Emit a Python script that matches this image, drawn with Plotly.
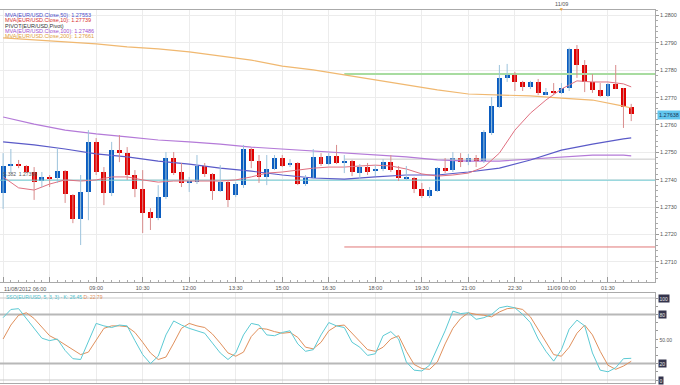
import plotly.graph_objects as go
import pandas as pd

# ---------------- data (15-minute EUR/USD candles, 11/08/2012 06:00 onward) ----------------
start_time = "2012-11-08 06:00"
opens = [1.27351, 1.27450, 1.27457, 1.27450, 1.27428, 1.27395, 1.27410, 1.27406, 1.27431, 1.27344,
         1.27256, 1.27355, 1.27538, 1.27428, 1.27351, 1.27508, 1.27497, 1.27417, 1.27366, 1.27282,
         1.27260, 1.27336, 1.27479, 1.27428, 1.27388, 1.27391, 1.27450, 1.27421, 1.27358, 1.27391,
         1.27344, 1.27380, 1.27512, 1.27468, 1.27410, 1.27439, 1.27479, 1.27453, 1.27461, 1.27384,
         1.27406, 1.27483, 1.27457, 1.27486, 1.27461, 1.27468, 1.27424, 1.27446, 1.27431, 1.27439,
         1.27464, 1.27435, 1.27402, 1.27406, 1.27366, 1.27340, 1.27358, 1.27442, 1.27435, 1.27479,
         1.27464, 1.27479, 1.27468, 1.27570, 1.27666, 1.27772, 1.27790, 1.27757, 1.27739, 1.27757,
         1.27713, 1.27720, 1.27717, 1.27735, 1.27878, 1.27819, 1.27757, 1.27728, 1.27706, 1.27750,
         1.27735, 1.27666]
highs = [1.27497, 1.27512, 1.27472, 1.27453, 1.27446, 1.27428, 1.27417, 1.27516, 1.27435, 1.27347,
         1.27417, 1.27581, 1.27552, 1.27446, 1.27538, 1.27563, 1.27519, 1.27435, 1.27435, 1.27296,
         1.27380, 1.27501, 1.27501, 1.27461, 1.27410, 1.27490, 1.27461, 1.27424, 1.27453, 1.27399,
         1.27391, 1.27527, 1.27516, 1.27490, 1.27490, 1.27490, 1.27490, 1.27475, 1.27464, 1.27417,
         1.27512, 1.27497, 1.27497, 1.27527, 1.27490, 1.27472, 1.27457, 1.27461, 1.27453, 1.27475,
         1.27490, 1.27450, 1.27450, 1.27410, 1.27388, 1.27373, 1.27446, 1.27479, 1.27501, 1.27497,
         1.27494, 1.27490, 1.27581, 1.27702, 1.27819, 1.27823, 1.27794, 1.27761, 1.27761, 1.27768,
         1.27735, 1.27753, 1.27753, 1.27882, 1.27892, 1.27837, 1.27786, 1.27753, 1.27753, 1.27819,
         1.27735, 1.27677]
lows = [1.27293, 1.27424, 1.27442, 1.27424, 1.27326, 1.27373, 1.27373, 1.27388, 1.27315, 1.27241,
        1.27161, 1.27252, 1.27417, 1.27307, 1.27340, 1.27464, 1.27399, 1.27336, 1.27205, 1.27216,
        1.27252, 1.27329, 1.27417, 1.27373, 1.27355, 1.27384, 1.27410, 1.27326, 1.27355, 1.27300,
        1.27336, 1.27370, 1.27442, 1.27388, 1.27380, 1.27435, 1.27446, 1.27446, 1.27380, 1.27377,
        1.27402, 1.27450, 1.27453, 1.27457, 1.27424, 1.27413, 1.27402, 1.27417, 1.27413, 1.27431,
        1.27428, 1.27395, 1.27399, 1.27351, 1.27333, 1.27333, 1.27355, 1.27424, 1.27428, 1.27446,
        1.27453, 1.27446, 1.27461, 1.27563, 1.27662, 1.27757, 1.27724, 1.27724, 1.27731, 1.27709,
        1.27709, 1.27713, 1.27713, 1.27724, 1.27772, 1.27720, 1.27717, 1.27702, 1.27702, 1.27731,
        1.27589, 1.27614]
closes = [1.27450, 1.27457, 1.27450, 1.27428, 1.27391, 1.27410, 1.27402, 1.27431, 1.27347, 1.27256,
          1.27355, 1.27538, 1.27428, 1.27351, 1.27508, 1.27497, 1.27417, 1.27366, 1.27278, 1.27260,
          1.27336, 1.27479, 1.27424, 1.27388, 1.27391, 1.27450, 1.27421, 1.27358, 1.27391, 1.27326,
          1.27384, 1.27512, 1.27468, 1.27410, 1.27439, 1.27479, 1.27450, 1.27461, 1.27384, 1.27406,
          1.27483, 1.27457, 1.27486, 1.27461, 1.27468, 1.27428, 1.27446, 1.27428, 1.27439, 1.27464,
          1.27435, 1.27406, 1.27410, 1.27366, 1.27340, 1.27362, 1.27442, 1.27435, 1.27479, 1.27464,
          1.27479, 1.27468, 1.27574, 1.27669, 1.27772, 1.27790, 1.27757, 1.27739, 1.27757, 1.27717,
          1.27720, 1.27717, 1.27735, 1.27878, 1.27819, 1.27757, 1.27728, 1.27706, 1.27750, 1.27731,
          1.27666, 1.27640]

# moving averages, read at candle indices
ma10_idx = [0, 2, 4, 6, 8, 10, 12, 14, 16, 18, 20, 22, 24, 26, 28, 30, 32, 34, 36, 38, 40,
            42, 44, 46, 48, 50, 52, 54, 56, 58, 60, 62, 64, 66, 68, 70, 72, 74, 76, 78, 80, 81]
ma10 = [1.27410, 1.27370, 1.27362, 1.27384, 1.27399, 1.27395, 1.27399, 1.27410, 1.27410, 1.27399,
        1.27391, 1.27395, 1.27395, 1.27395, 1.27395, 1.27399, 1.27410, 1.27424, 1.27428, 1.27435,
        1.27442, 1.27446, 1.27446, 1.27450, 1.27453, 1.27450, 1.27439, 1.27421, 1.27413, 1.27417,
        1.27424, 1.27446, 1.27497, 1.27581, 1.27643, 1.27691, 1.27731, 1.27761, 1.27757, 1.27757,
        1.27750, 1.27739]
ma_idx = [0, 4, 8, 12, 16, 20, 24, 28, 32, 36, 40, 44, 48, 52, 56, 60, 64, 68, 72, 76, 80, 81]
ma50 = [1.27538, 1.27527, 1.27512, 1.27494, 1.27483, 1.27468, 1.27457, 1.27442, 1.27431, 1.27417,
        1.27406, 1.27402, 1.27410, 1.27417, 1.27417, 1.27428, 1.27442, 1.27472, 1.27508, 1.27530,
        1.27549, 1.27553]
ma100 = [1.27629, 1.27603, 1.27581, 1.27567, 1.27556, 1.27545, 1.27538, 1.27530, 1.27519, 1.27512,
         1.27505, 1.27497, 1.27490, 1.27483, 1.27472, 1.27468, 1.27468, 1.27475, 1.27483, 1.27490,
         1.27490, 1.27487]
ma200 = [1.27918, 1.27910, 1.27903, 1.27896, 1.27885, 1.27878, 1.27867, 1.27852, 1.27837, 1.27815,
         1.27801, 1.27783, 1.27764, 1.27746, 1.27728, 1.27713, 1.27709, 1.27706, 1.27698, 1.27691,
         1.27669, 1.27662]

# pivot levels
pivot_prev = 1.27398
pivot_start = "2012-11-08 17:00"
pivot_r1 = 1.27786
pivot_pp = 1.27475
pivot_s1 = 1.27154

# slow stochastic (5,3,3)
sso_k = [76, 86, 87, 75, 62, 51, 48, 50, 36, 26, 25, 47, 69, 66, 64, 67, 66, 48, 31, 20,
         29, 55, 72, 67, 63, 60, 57, 45, 33, 25, 33, 55, 69, 67, 55, 54, 58, 60, 44, 35,
         37, 55, 70, 66, 64, 46, 40, 30, 32, 54, 59, 50, 22, 12, 11, 18, 38, 60, 84, 81,
         82, 74, 76, 80, 88, 90, 88, 80, 70, 50, 35, 23, 37, 62, 73, 66, 33, 12, 10, 15,
         26, 26.45]
sso_d = [50, 67, 79, 82, 75, 65, 54, 49, 43, 37, 31, 34, 48, 63, 66, 66, 65, 58, 46, 33,
         25, 28, 45, 63, 69, 66, 64, 56, 45, 33, 29, 34, 53, 63, 62, 59, 57, 58, 52, 40,
         38, 46, 60, 66, 67, 57, 46, 37, 35, 40, 50, 54, 35, 19, 14, 13, 22, 44, 63, 75,
         82, 80, 79, 77, 83, 87, 88, 86, 77, 62, 46, 31, 29, 40, 57, 67, 55, 35, 18, 13,
         17, 22.79]
sso_levels = [100, 80, 20, 0]

last_price = "1.27638"
legend_lines = [("MVA(EUR/USD.Close,50): 1.27553", "#4a4ac8"),
                ("MVA(EUR/USD.Close,10): 1.27739", "#d83030"),
                ("PIVOT(EUR/USD,Pivot)", "#333333"),
                ("MVA(EUR/USD.Close,100): 1.27486", "#a050d0"),
                ("MVA(EUR/USD.Close,200): 1.27661", "#e0a040")]

# ---------------- figure ----------------
times = pd.date_range(start_time, periods=len(opens), freq="15min")
x_end = pd.Timestamp("2012-11-09 03:01")
x_start = pd.Timestamp("2012-11-08 05:54")

FONT = "Liberation Sans, Arial, sans-serif"
UP_BODY, UP_WICK = "#0a5cc0", "#9cc3dc"
DN_BODY, DN_WICK = "#e00000", "#d88c8c"

fig = go.Figure()


def hline(x0, y, color, width):
    fig.add_trace(go.Scatter(x=[x0, x_end], y=[y, y], mode="lines",
                             line=dict(color=color, width=width), hoverinfo="skip",
                             showlegend=False))


hline(x_start, pivot_prev, "#70c8d0", 1)
hline(pd.Timestamp(pivot_start), pivot_r1, "#a8dca0", 2)
hline(pd.Timestamp(pivot_start), pivot_pp, "#c8c8c8", 1)
hline(pd.Timestamp(pivot_start), pivot_s1, "#e07878", 1)

# moving averages
fig.add_trace(go.Scatter(x=times[ma_idx], y=ma200, mode="lines",
                         line=dict(color="#f0b870", width=1.2), showlegend=False))
fig.add_trace(go.Scatter(x=times[ma_idx], y=ma100, mode="lines",
                         line=dict(color="#b47ad8", width=1.2), showlegend=False))
fig.add_trace(go.Scatter(x=times[ma_idx], y=ma50, mode="lines",
                         line=dict(color="#5a5ac8", width=1.2), showlegend=False))
fig.add_trace(go.Scatter(x=times[ma10_idx], y=ma10, mode="lines",
                         line=dict(color="#e07080", width=1), showlegend=False))

# wicks
for up in (True, False):
    wx, wy = [], []
    for t, o, h, l, c in zip(times, opens, highs, lows, closes):
        if (c >= o) == up:
            wx += [t, t, None]
            wy += [l, h, None]
    fig.add_trace(go.Scatter(x=wx, y=wy, mode="lines",
                             line=dict(color=UP_WICK if up else DN_WICK, width=1),
                             hoverinfo="skip", showlegend=False))

# bodies
for up in (True, False):
    bx, bb, bh = [], [], []
    for t, o, c in zip(times, opens, closes):
        if (c >= o) == up:
            bx.append(t)
            bb.append(min(o, c))
            bh.append(max(abs(c - o), 0.00004))
    fig.add_trace(go.Bar(x=bx, y=bh, base=bb, width=9.5 * 60 * 1000,
                         marker=dict(color=UP_BODY if up else DN_BODY, line=dict(width=0)),
                         showlegend=False))

# stochastic
for lv in sso_levels:
    col = "#b8b8b8" if lv in (80, 20) else "#c8c8c8"
    w = 2 if lv in (80, 20) else 1
    fig.add_trace(go.Scatter(x=[x_start, x_end], y=[lv, lv], mode="lines",
                             line=dict(color=col, width=w), hoverinfo="skip",
                             showlegend=False, xaxis="x2", yaxis="y2"))
fig.add_trace(go.Scatter(x=times, y=sso_d, mode="lines", line=dict(color="#e0905c", width=1),
                         showlegend=False, xaxis="x2", yaxis="y2"))
fig.add_trace(go.Scatter(x=times, y=sso_k, mode="lines", line=dict(color="#5ccad4", width=1),
                         showlegend=False, xaxis="x2", yaxis="y2"))

# ticks on time axis
major = pd.date_range("2012-11-08 06:00", "2012-11-09 01:30", freq="90min")
labels = []
for t in major:
    if t.hour == 0 and t.minute == 0:
        labels.append("11/09 00:00")
    elif t == major[0] or t == major[1]:
        labels.append("")
    else:
        labels.append(t.strftime("%H:%M"))

XD = [0, 655 / 680]
main_dom = [1 - 282 / 385, 1 - 10 / 385]
osc_dom = [1 - 383 / 385, 1 - 293 / 385]

fig.update_layout(
    width=680, height=385,
    margin=dict(l=0, r=0, t=0, b=0, autoexpand=False),
    paper_bgcolor="white", plot_bgcolor="white",
    bargap=0, barmode="overlay",
    font=dict(family=FONT, size=5.5, color="#555555"),
    xaxis=dict(domain=XD, type="date", range=[x_start, x_end],
               tickvals=list(major), ticktext=labels,
               showgrid=True, gridcolor="#ececec", gridwidth=1,
               ticks="inside", ticklen=5, tickcolor="#999999",
               minor=dict(dtick=15 * 60 * 1000, tick0="2012-11-08 06:00", ticks="inside",
                          ticklen=2, tickcolor="#aaaaaa", showgrid=False),
               showline=True, linecolor="#aaaaaa", mirror=True,
               tickfont=dict(size=5.5, color="#555555"), anchor="y", zeroline=False),
    yaxis=dict(domain=main_dom, range=[1.27026, 1.28020], side="right",
               tick0=1.27, dtick=0.001, tickformat=".4f",
               showgrid=True, gridcolor="#ececec",
               ticks="outside", ticklen=3, tickcolor="#999999",
               minor=dict(dtick=0.0002, ticks="outside", ticklen=2, tickcolor="#aaaaaa",
                          showgrid=False),
               showline=True, linecolor="#aaaaaa", mirror=True,
               tickfont=dict(size=5.5, color="#555555"), anchor="x", zeroline=False),
    xaxis2=dict(domain=XD, type="date", range=[x_start, x_end],
                tickvals=list(major), showticklabels=False,
                showgrid=True, gridcolor="#ececec", ticks="",
                showline=True, linecolor="#aaaaaa", mirror=True,
                anchor="y2", matches="x", zeroline=False),
    yaxis2=dict(domain=osc_dom, range=[-3.66, 106.1], side="right",
                showticklabels=False, showgrid=False,
                ticks="outside", ticklen=2, dtick=10, tick0=0, tickcolor="#999999",
                showline=True, linecolor="#aaaaaa", mirror=True,
                anchor="x2", zeroline=False),
)

ann = []
for i, (txt, col) in enumerate(legend_lines):
    ann.append(dict(xref="paper", yref="paper", x=3 / 680, y=1 - (15 + 5.3 * i) / 385,
                    text=txt, showarrow=False, xanchor="left", yanchor="middle",
                    font=dict(size=5.5, color=col, family=FONT)))
ann.append(dict(xref="paper", yref="y", x=1 / 680, y=pivot_prev, text="S.382  1.27398",
                showarrow=False, xanchor="left", yanchor="bottom", yshift=1,
                font=dict(size=5, color="#555555", family=FONT)))
ann.append(dict(xref="paper", yref="paper", x=2 / 680, y=1 - 289 / 385,
                text="11/08/2012 06:00", showarrow=False, xanchor="left", yanchor="middle",
                font=dict(size=5.5, color="#555555", family=FONT)))
ann.append(dict(xref="x", yref="paper", x=pd.Timestamp("2012-11-09 00:00"), y=1 - 4 / 385,
                text="11/09", showarrow=False, xanchor="center", yanchor="middle",
                font=dict(size=5.5, color="#555555", family=FONT)))
ann.append(dict(xref="x", yref="paper", x=pd.Timestamp("2012-11-09 00:00"), y=1 - 9.5 / 385,
                text="▼", showarrow=False, xanchor="center", yanchor="middle",
                font=dict(size=5, color="#f0a030", family=FONT)))
ann.append(dict(xref="paper", yref="y", x=657 / 680, y=float(last_price), text=last_price,
                showarrow=False, xanchor="left", yanchor="middle", bgcolor="#62c6ee",
                borderpad=1, font=dict(size=5.5, color="#1a3a5a", family=FONT)))
ann.append(dict(xref="paper", yref="paper", x=4 / 680, y=1 - 297 / 385,
                text="<span style='color:#4cc0cc'>SSO(EUR/USD, 5, 3, 3) - K: 26.45</span>"
                     "<span style='color:#e0905c'> D: 22.79</span>",
                showarrow=False, xanchor="left", yanchor="middle",
                font=dict(size=5, family=FONT)))
for lv, txt, box in [(100, "100", True), (80, "80", True), (50, "50.00", False),
                     (20, "20", True), (0, "0", True)]:
    ann.append(dict(xref="paper", yref="y2", x=658 / 680, y=lv, text=txt, showarrow=False,
                    xanchor="left", yanchor="middle",
                    bgcolor="#34344c" if box else "rgba(0,0,0,0)", borderpad=0.5,
                    font=dict(size=5, color="#e8e8e8" if box else "#555555", family=FONT)))
fig.update_layout(annotations=ann)

fig.write_html("out.html", config={"displayModeBar": False},
               post_script="document.body.style.margin='0';document.body.style.padding='0';")
